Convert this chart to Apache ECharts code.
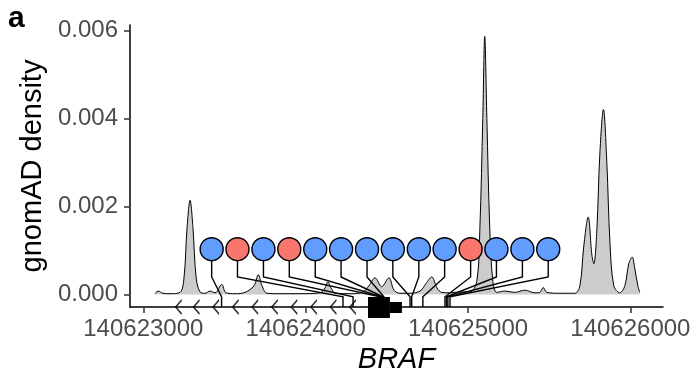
<!DOCTYPE html>
<html>
<head>
<meta charset="utf-8">
<script src="https://cdn.jsdelivr.net/npm/echarts@6/dist/echarts.min.js"></script>
<style>
html,body{margin:0;padding:0;background:#fff;}
#main{width:694px;height:382px;}
</style>
</head>
<body>
<div id="main"></div>
<script>
// x tick labels (genomic position) and y tick labels
var xTicks = [140623000, 140624000, 140625000, 140626000];
var yTicks = [0, 0.002, 0.004, 0.006];

// gnomAD density curve
var densityPos = [140623072,140623091,140623121,140623164,140623226,140623251,140623269,140623288,140623306,140623325,
	140623349,140623380,140623411,140623442,140623483,140623509,140623565,140623626,140623682,140623708,
	140623731,140623762,140623842,140623965,140624088,140624119,140624137,140624156,140624186,140624273,
	140624347,140624390,140624427,140624468,140624513,140624544,140624581,140624643,140624704,140624741,
	140624776,140624809,140624839,140624888,140624950,140625011,140625054,140625073,140625091,140625103,
	140625116,140625134,140625153,140625177,140625227,140625288,140625350,140625411,140625442,140625463,
	140625486,140625566,140625658,140625689,140625713,140625740,140625763,140625775,140625794,140625812,
	140625834,140625855,140625874,140625898,140625935,140625966,140625990,140626011,140626027,140626046,140626058];
var densityVal = [0.00002,0.00008,0.00003,0.00002,0.00005,0.0004,0.0015,0.00214,0.0015,0.0004,
	0.00006,0.00003,0.00008,0.00004,0.00023,0.00004,0.00002,0.00005,0.0002,0.00045,
	0.0002,0.00003,0.00002,0.00002,0.00004,0.00015,0.00029,0.00015,0.00003,0.00002,
	0.00005,0.0002,0.00038,0.00018,0.00038,0.0001,0.00003,0.00003,0.00008,0.00025,
	0.0004,0.00015,0.00005,0.00004,0.00006,0.00006,0.0003,0.0015,0.004,0.00586,
	0.004,0.0015,0.0003,0.00005,0.00008,0.00005,0.0001,0.00004,0.00005,0.00016,
	0.00005,0.00003,0.00003,0.0002,0.0011,0.00176,0.0009,0.0007,0.0015,0.0032,
	0.0042,0.003,0.0012,0.0002,0.00004,0.0002,0.0007,0.00085,0.0006,0.0002,0.00005];

// lollipops: circle positions, variant positions, class
var circlePos = [140623421,140623580,140623740,140623899,140624059,140624218,140624378,
	140624537,140624697,140624856,140625016,140625175,140625335,140625494];
var variantPos = [140623482,140624230,140624292,140624458,140624470,140624476,140624482,
	140624643,140624653,140624722,140624858,140624868,140624876,140624889];
var variantClass = ['b','r','b','r','b','b','b','b','b','b','r','b','b','b'];
var circleY = 0.00103;
var elbowY = 0.0004;
var bendY = -0.00005;

// gene track (BRAF, minus strand)
var chevronPos = [140623218,140623328,140623448,140623569,140623689,140623810,140623930,140624051,140624171,140624291];
var exonWide = [140624384, 140624519];
var exonNarrow = [140624519, 140624593];

var xMin = 140622918, xMax = 140626201;
var yMin = -0.000282, yMax = 0.00612;
var trackY = yMin;

var colors = {b: '#619CFF', r: '#F8766D'};
var font = 'Liberation Sans, Arial, Helvetica, sans-serif';

var myChart = echarts.init(document.getElementById('main'));

var densityData = densityPos.map(function(p, i){ return [p, densityVal[i]]; });

var connectors = circlePos.map(function(p, i){
	return {coords: [[p, circleY], [p, elbowY], [variantPos[i], bendY], [variantPos[i], trackY]]};
});

var circles = circlePos.map(function(p, i){
	return {value: [p, circleY], itemStyle: {color: colors[variantClass[i]]}};
});

var option = {
	animation: false,
	title: {
		text: 'a', left: 3, top: -1,
		textStyle: {fontFamily: font, fontSize: 30, fontWeight: 'bold', color: '#000'}
	},
	grid: {left: 130, right: 31, top: 25, bottom: 75, containLabel: false, outerBoundsMode: 'none'},
	xAxis: {
		type: 'value', min: xMin, max: xMax,
		name: 'BRAF', nameLocation: 'middle', nameGap: 38,
		nameTextStyle: {fontFamily: font, fontSize: 29, fontStyle: 'italic', color: '#000'},
		splitLine: {show: false},
		axisLine: {onZero: false, lineStyle: {color: '#000', width: 1.5}},
		axisTick: {customValues: xTicks, length: 6, lineStyle: {color: '#333', width: 1.5}},
		axisLabel: {customValues: xTicks, margin: 10, fontFamily: font, fontSize: 24, color: '#4D4D4D',
			formatter: function(v){ return String(v); }}
	},
	yAxis: {
		type: 'value', min: yMin, max: yMax,
		name: 'gnomAD density', nameLocation: 'middle', nameGap: 77,
		nameTextStyle: {fontFamily: font, fontSize: 29, color: '#000'},
		splitLine: {show: false},
		axisLine: {show: true, lineStyle: {color: '#000', width: 1.5}},
		axisTick: {show: true, customValues: yTicks, length: 6, lineStyle: {color: '#333', width: 1.5}},
		axisLabel: {customValues: yTicks, margin: 12, fontFamily: font, fontSize: 24, color: '#4D4D4D',
			formatter: function(v){ return v.toFixed(3); }}
	},
	series: [
		{
			type: 'line', data: densityData, smooth: 0.35, symbol: 'none', z: 1,
			lineStyle: {color: '#000', width: 1},
			areaStyle: {color: '#CCCCCC', opacity: 1}
		},
		{
			type: 'lines', coordinateSystem: 'cartesian2d', polyline: true, z: 3, clip: false,
			lineStyle: {color: '#000', width: 1.4, opacity: 1},
			data: connectors
		},
		{
			type: 'scatter', symbol: 'path://M7,0 L0,8 L7,16', symbolSize: [6, 14], z: 3, clip: false,
			itemStyle: {color: 'transparent', borderColor: '#000', borderWidth: 1.4},
			data: chevronPos.map(function(p){ return [p, trackY]; })
		},
		{
			type: 'lines', coordinateSystem: 'cartesian2d', z: 4, clip: false,
			lineStyle: {color: '#000', opacity: 1, cap: 'butt'},
			data: [
				{coords: [[exonWide[0], trackY], [exonWide[1], trackY]], lineStyle: {width: 21}},
				{coords: [[exonNarrow[0], trackY], [exonNarrow[1], trackY]], lineStyle: {width: 11}}
			]
		},
		{
			type: 'scatter', symbol: 'circle', symbolSize: 23, z: 5,
			itemStyle: {borderColor: '#000', borderWidth: 1.4, opacity: 1},
			data: circles
		}
	]
};
myChart.setOption(option);
</script>
</body>
</html>
